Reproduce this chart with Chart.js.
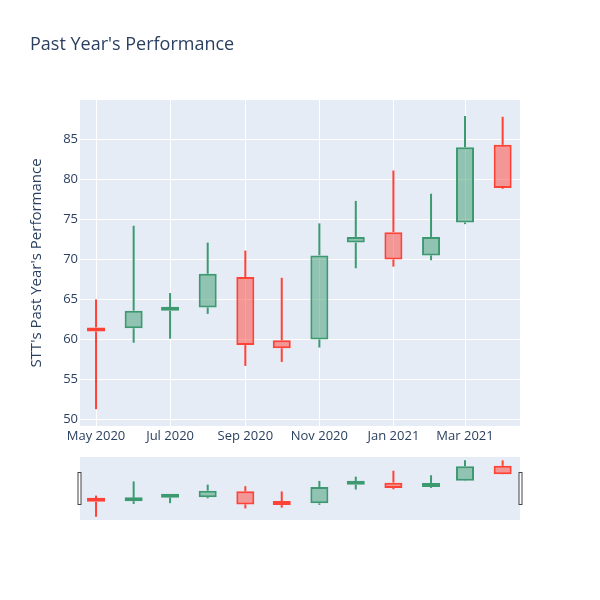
<!DOCTYPE html>
<html>
<head>
<meta charset="utf-8">
<script src="https://cdn.jsdelivr.net/npm/chart.js@4/dist/chart.umd.min.js"></script>
<style>
  body { margin: 0; background: #fff; }
  #wrap { position: relative; width: 600px; height: 600px; font-family: "Open Sans", sans-serif; }
  #title { position: absolute; left: 30px; top: 31px; font-size: 18px; color: #2a3f5f; white-space: nowrap; }
  canvas { position: absolute; left: 0; }
</style>
</head>
<body>
<div id="wrap">
  <canvas id="main" width="600" height="600" style="top:0"></canvas>
  <canvas id="slider" width="600" height="83" style="top:447px"></canvas>
  <div id="title">Past Year's Performance</div>
</div>
<script>
// monthly candles
const dates = ['2020-05-01', '2020-06-01', '2020-07-01', '2020-08-01', '2020-09-01', '2020-10-01',
               '2020-11-01', '2020-12-01', '2021-01-01', '2021-02-01', '2021-03-01', '2021-04-01'];
const opens  = [61.5, 61.4, 63.6, 64.0, 67.8, 59.9, 60.0, 72.1, 73.4, 70.5, 74.6, 84.3];
const highs  = [65.0, 74.2, 65.8, 72.1, 71.1, 67.7, 74.5, 77.3, 81.1, 78.2, 87.9, 87.8];
const lows   = [51.3, 59.6, 60.1, 63.2, 56.7, 57.2, 59.0, 68.9, 69.1, 69.9, 74.4, 78.8];
const closes = [61.0, 63.6, 63.8, 68.2, 59.3, 58.9, 70.5, 72.8, 70.0, 72.8, 84.0, 78.9];

const tickDates  = ['2020-05-01', '2020-07-01', '2020-09-01', '2020-11-01', '2021-01-01', '2021-03-01'];
const tickLabels = ['May 2020', 'Jul 2020', 'Sep 2020', 'Nov 2020', 'Jan 2021', 'Mar 2021'];
const yTicks = [50, 55, 60, 65, 70, 75, 80, 85];

const UP = '#3D9970', DOWN = '#FF4136';
const UP_FILL = 'rgba(61,153,112,0.5)', DOWN_FILL = 'rgba(255,65,54,0.5)';
const TEXT = '#2a3f5f', PLOT_BG = '#E5ECF6';

const xs = dates.map(d => Date.parse(d));
const tickXs = tickDates.map(d => Date.parse(d));
const xMin = Date.parse('2020-04-17T19:00:00Z');
const xMax = Date.parse('2021-04-15T07:00:00Z');

const isUp = opens.map((o, i) => closes[i] >= o);
const lineCols = isUp.map(u => u ? UP : DOWN);
const fillCols = isUp.map(u => u ? UP_FILL : DOWN_FILL);

function makeDatasets() {
  return [
    {
      label: 'body',
      data: xs.map((x, i) => ({ x: x, y: [opens[i], closes[i]] })),
      backgroundColor: fillCols,
      borderColor: lineCols,
      borderWidth: 2,
      borderSkipped: false,
      barThickness: 18,
      minBarLength: 4,
      inflateAmount: 0,
      grouped: false
    },
    {
      label: 'upper wick',
      data: xs.map((x, i) => ({ x: x, y: [Math.max(opens[i], closes[i]), highs[i]] })),
      backgroundColor: lineCols,
      borderWidth: 0,
      barThickness: 2,
      inflateAmount: 0,
      grouped: false
    },
    {
      label: 'lower wick',
      data: xs.map((x, i) => ({ x: x, y: [lows[i], Math.min(opens[i], closes[i])] })),
      backgroundColor: lineCols,
      borderWidth: 0,
      barThickness: 2,
      inflateAmount: 0,
      grouped: false
    }
  ];
}

const plotBg = {
  id: 'plotBg',
  beforeDraw(chart) {
    const a = chart.chartArea, ctx = chart.ctx;
    ctx.save();
    ctx.fillStyle = PLOT_BG;
    ctx.fillRect(a.left, a.top, a.right - a.left, a.bottom - a.top);
    ctx.restore();
  }
};

// range slider grips at both ends
const grips = {
  id: 'grips',
  afterDraw(chart) {
    const a = chart.chartArea, ctx = chart.ctx;
    const mid = (a.top + a.bottom) / 2;
    ctx.save();
    ctx.fillStyle = '#fff';
    ctx.strokeStyle = '#444';
    ctx.lineWidth = 1;
    [a.left - 0.5, a.right + 0.5].forEach(x => {
      ctx.fillRect(x - 1.5, mid - 16, 3, 32);
      ctx.strokeRect(x - 1.5, mid - 16, 3, 32);
    });
    ctx.restore();
  }
};

Chart.defaults.font.family = '"Open Sans", sans-serif';
Chart.defaults.color = TEXT;

new Chart(document.getElementById('main'), {
  type: 'bar',
  data: { datasets: makeDatasets() },
  options: {
    responsive: false,
    animation: false,
    layout: { padding: { left: 24, right: 80, top: 100, bottom: 144 } },
    plugins: { legend: { display: false }, tooltip: { enabled: true } },
    scales: {
      x: {
        type: 'linear',
        min: xMin,
        max: xMax,
        offset: false,
        afterFit: s => { s.height = 30; },
        afterBuildTicks: s => { s.ticks = tickXs.map(v => ({ value: v })); },
        grid: { color: '#fff', lineWidth: 1, drawTicks: false, offset: false },
        border: { display: false },
        ticks: {
          autoSkip: false,
          maxRotation: 0,
          padding: 2,
          font: { size: 13 },
          color: TEXT,
          callback: v => tickLabels[tickXs.indexOf(v)]
        }
      },
      y: {
        min: 49.2,
        max: 89.9,
        afterFit: s => { s.width = 56; },
        afterBuildTicks: s => { s.ticks = yTicks.map(v => ({ value: v })); },
        grid: { color: '#fff', lineWidth: 1, drawTicks: false },
        border: { display: false },
        ticks: { padding: 2, font: { size: 13 }, color: TEXT },
        title: {
          display: true,
          text: "STT's Past Year's Performance",
          font: { size: 15 },
          color: TEXT
        }
      }
    }
  },
  plugins: [plotBg]
});

new Chart(document.getElementById('slider'), {
  type: 'bar',
  data: { datasets: makeDatasets() },
  options: {
    responsive: false,
    animation: false,
    layout: { padding: { left: 80, right: 80, top: 10, bottom: 10 } },
    plugins: { legend: { display: false }, tooltip: { enabled: false } },
    scales: {
      x: { type: 'linear', min: xMin, max: xMax, offset: false, display: false },
      y: { min: 49.2, max: 90.0, display: false }
    }
  },
  plugins: [plotBg, grips]
});
</script>
</body>
</html>
